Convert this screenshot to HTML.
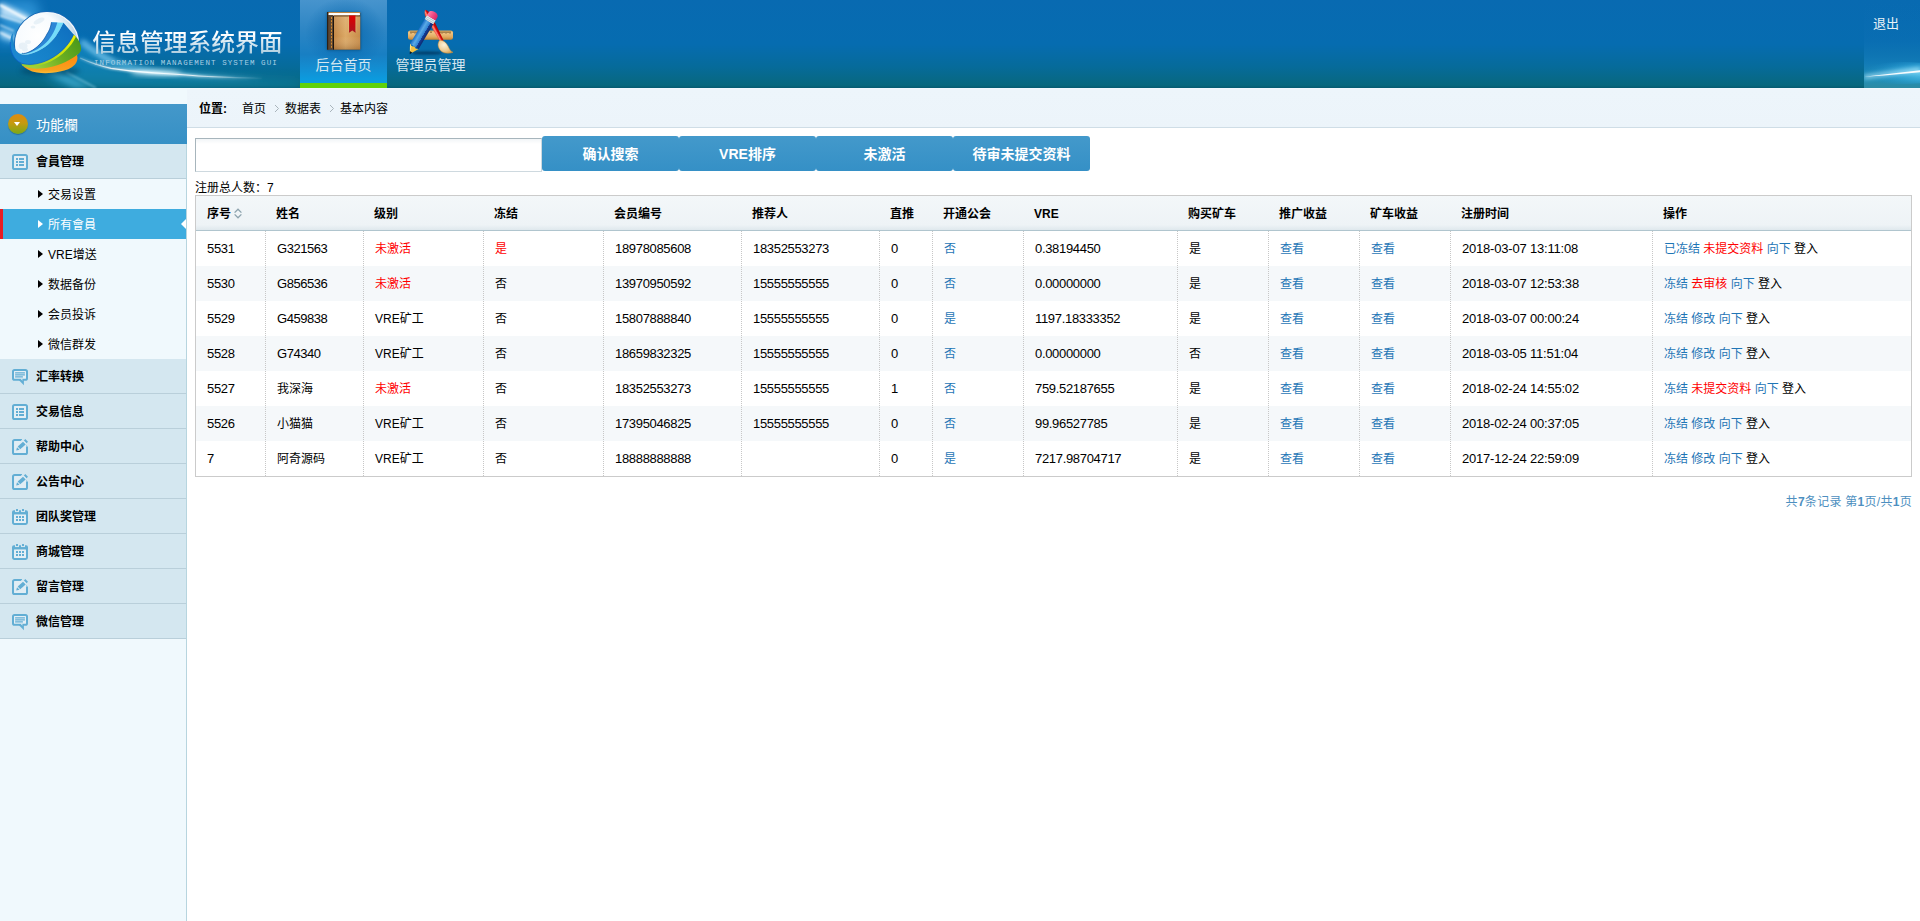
<!DOCTYPE html>
<html lang="zh-CN">
<head>
<meta charset="utf-8">
<title>信息管理系统界面</title>
<style>
*{margin:0;padding:0;box-sizing:border-box;}
html,body{width:1920px;height:921px;overflow:hidden;background:#fff;}
body{font-family:"Liberation Sans","Noto Sans CJK SC",sans-serif;font-size:12px;color:#000;position:relative;}
ul,li{list-style:none;}
a{text-decoration:none;color:inherit;}
/* header */
#top{position:absolute;left:0;top:0;width:1920px;height:88px;background:linear-gradient(to bottom,#086ab1 0%,#066cb0 50%,#066b9b 75%,#08687e 97%,#075a70 100%);overflow:hidden;}
#topleft{position:absolute;left:0;top:0;width:300px;height:88px;}
#logotxt{position:absolute;left:92.300px;top:26px;font-size:23.8px;font-weight:500;line-height:34px;color:#e8f1f7;letter-spacing:0;white-space:nowrap;background:linear-gradient(to bottom,#ffffff 25%,#cfe3ee 55%,#a9cbdd 85%);-webkit-background-clip:text;background-clip:text;-webkit-text-fill-color:transparent;}
#logosub{position:absolute;left:94px;top:58px;font-family:"Liberation Mono","Liberation Sans",monospace;font-size:7.5px;line-height:10px;color:#a9d0e4;letter-spacing:1.07px;white-space:nowrap;}
.nav{position:absolute;left:300px;top:0;height:88px;}
.nav li{position:absolute;top:0;width:87px;height:88px;text-align:center;}
.nav li.sel{background:radial-gradient(ellipse 40px 36px at 52% 38%,rgba(9,104,174,.9) 0,rgba(9,104,174,.55) 45%,rgba(9,104,174,0) 100%),linear-gradient(to bottom,#4794cd 0%,#2c85c4 35%,#187fc3 62%,#1290d4 80%,#0a9ee1 93%,#0a9fe2 100%);}
.nav li.sel:after{content:"";position:absolute;left:0;bottom:0;width:87px;height:5px;background:#5fd10a;}
.nav h2{position:absolute;left:0;top:55px;width:87px;font-size:14px;font-weight:normal;line-height:20px;color:#d6e8f1;white-space:nowrap;}
.nav svg{position:absolute;}
#topright{position:absolute;right:0;top:0;width:56px;height:88px;}
#exit{position:absolute;left:1873px;top:15px;font-size:13px;line-height:18px;color:#e9f2f7;}
/* sidebar */
#left{position:absolute;left:0;top:88px;width:187px;height:833px;background:#f0f9fd;}
#left:after{content:"";position:absolute;left:186px;top:56px;width:1px;height:777px;background:#b7d5df;}
#lefttop{position:absolute;left:0;top:16px;width:187px;height:40px;background:linear-gradient(to bottom,#4498ca,#3690c5);color:#fff;font-size:14px;line-height:40px;}
#lefttop span.t{position:absolute;left:36px;top:1px;}
#lefttop .ico{position:absolute;left:8px;top:10px;width:20px;height:20px;border-radius:50%;background:linear-gradient(to bottom,#e08a10,#c69a10 45%,#7aa916);box-shadow:0 1px 1px rgba(0,0,0,.25);}
#lefttop .ico:after{content:"";position:absolute;left:5.800px;top:8px;border:3.700px solid transparent;border-top:4.200px solid #fff;border-bottom:0;}
.mt{position:absolute;left:0;width:186px;height:35px;background:#d4e7f0;border-bottom:1px solid #b9cfda;font-weight:bold;font-size:12px;line-height:36px;}
.mt b{position:absolute;left:36px;top:0;font-weight:bold;}
.mt svg{position:absolute;left:12px;top:10px;}
.ms{position:absolute;left:0;width:186px;height:30px;line-height:33.200px;font-size:12px;}
.ms span{position:absolute;left:48px;top:0;}
.ms i{position:absolute;left:38px;top:11px;border:4px solid transparent;border-left:5px solid #000;border-right:0;}
.ms.act{background:#3eacdf;color:#fff;border-left:3px solid #e81c24;}
.ms.act span{left:45px;}
.ms.act i{left:35px;border-left-color:#fff;}
.ms.act em{position:absolute;right:0;top:9.500px;border:5.300px solid transparent;border-right:5.500px solid #fff;border-left:0;}
/* right */
#place{position:absolute;left:187px;top:88px;width:1733px;height:40px;background:linear-gradient(to bottom,#f4f9fd 0,#edf5fb 2px,#ecf4fa 100%);border-bottom:1px solid #cfdde6;line-height:42px;}
#place span,#place a,#place i{position:absolute;top:0;white-space:nowrap;}
#place i{font-style:normal;color:#9aa;}
#sin{position:absolute;left:195px;top:138px;width:347px;height:34px;border:1px solid #a7b5bc;border-bottom-color:#ced9df;border-right-color:#ced9df;background:linear-gradient(to bottom,#f2f5f7 0,#fff 5px);}
.btn{position:absolute;top:136px;width:137px;height:35px;background:linear-gradient(to bottom,#4399cb,#3590c6);border-radius:3px;color:#fff;font-weight:bold;font-size:14px;line-height:37px;text-align:center;}
#total{position:absolute;left:195px;top:179px;line-height:18px;}
#tbl{position:absolute;left:195px;top:195px;width:1717px;height:282px;border:1px solid #cbcbcb;}
#thead{position:absolute;left:0;top:0;width:1715px;height:35px;background:linear-gradient(to bottom,#f3f7f9 0%,#eef3f6 85%,#dfe8ed 100%);border-bottom:1px solid #b0c5ce;}
#thead b{position:absolute;top:0;line-height:36px;white-space:nowrap;}
.tr{position:absolute;left:0;width:1715px;height:35px;line-height:35px;}
.tr.odd{background:#f5f8fa;}
.tr span{position:absolute;top:0;white-space:nowrap;line-height:37px;}
.tr span.n,.tr span.d,.tr span.g{line-height:35.600px;}
.vl{position:absolute;z-index:2;top:35px;width:0;height:245px;border-left:1px dotted #c7c7c7;}
.red{color:#f00;}
.blue{color:#1f76b6;}
.n{font-size:13px;letter-spacing:-.32px;}
.d{font-size:13px;letter-spacing:-.2px;}
.g{font-size:13px;letter-spacing:-.45px;}
#pager{position:absolute;right:8px;top:493px;line-height:18px;color:#4d8fc0;white-space:nowrap;letter-spacing:.28px;}
</style>
</head>
<body>
<div id="top">
  <div id="topleft">
<svg id="logosvg" width="300" height="88" viewBox="0 0 300 88" style="position:absolute;left:0;top:0">
<defs>
<filter id="b1" x="-20%" y="-50%" width="140%" height="200%"><feGaussianBlur stdDeviation="0.9"/></filter>
<filter id="b2" x="-20%" y="-50%" width="140%" height="200%"><feGaussianBlur stdDeviation="2.5"/></filter>
<filter id="b5" x="-30%" y="-80%" width="160%" height="260%"><feGaussianBlur stdDeviation="6"/></filter>
<filter id="b0" x="-20%" y="-20%" width="140%" height="140%"><feGaussianBlur stdDeviation="0.6"/></filter>
<radialGradient id="gl" gradientUnits="userSpaceOnUse" cx="38" cy="36" r="44"><stop offset="0" stop-color="#ffffff"/><stop offset="0.5" stop-color="#f7fbfe"/><stop offset="0.72" stop-color="#d5e7f3"/><stop offset="0.9" stop-color="#b5cfe2"/><stop offset="1" stop-color="#e8f3fa"/></radialGradient>
<linearGradient id="gb" gradientUnits="userSpaceOnUse" x1="68" y1="24" x2="25" y2="64"><stop offset="0" stop-color="#0f6fc0"/><stop offset="0.55" stop-color="#1580c8"/><stop offset="1" stop-color="#1b87cf"/></linearGradient>
<linearGradient id="gg" gradientUnits="userSpaceOnUse" x1="78" y1="40" x2="35" y2="68"><stop offset="0" stop-color="#4b991b"/><stop offset="0.45" stop-color="#6aae22"/><stop offset="1" stop-color="#a0cf3a"/></linearGradient>
<linearGradient id="gy" gradientUnits="userSpaceOnUse" x1="75" y1="35" x2="25" y2="66"><stop offset="0" stop-color="#f2f200"/><stop offset="0.4" stop-color="#c6e010"/><stop offset="1" stop-color="#8fd02c"/></linearGradient>
<linearGradient id="go" gradientUnits="userSpaceOnUse" x1="50" y1="60" x2="50" y2="74"><stop offset="0" stop-color="#ff8f14"/><stop offset="0.7" stop-color="#f7a11f"/><stop offset="1" stop-color="#ffc23a"/></linearGradient>
<linearGradient id="sw" gradientUnits="userSpaceOnUse" x1="80" y1="0" x2="265" y2="0"><stop offset="0" stop-color="#fff" stop-opacity=".25"/><stop offset="0.18" stop-color="#fff" stop-opacity=".8"/><stop offset="0.36" stop-color="#fff" stop-opacity="1"/><stop offset="0.62" stop-color="#fff" stop-opacity=".75"/><stop offset="0.85" stop-color="#fff" stop-opacity=".2"/><stop offset="1" stop-color="#fff" stop-opacity="0"/></linearGradient>
<linearGradient id="sw2" gradientUnits="userSpaceOnUse" x1="80" y1="0" x2="265" y2="0"><stop offset="0" stop-color="#7fd4f7" stop-opacity=".5"/><stop offset="0.36" stop-color="#7fd4f7" stop-opacity=".7"/><stop offset="0.75" stop-color="#7fd4f7" stop-opacity=".25"/><stop offset="1" stop-color="#7fd4f7" stop-opacity="0"/></linearGradient>
<clipPath id="gc"><rect x="0" y="0" width="100" height="56"/></clipPath>
</defs>
<!-- light rays -->
<path d="M0 0L36 0L42 24L18 40L0 46Z" fill="#43a9ea" opacity=".6" filter="url(#b5)"/>
<path d="M0 2L30 16L30 24L0 16Z" fill="#d9f0ff" opacity=".8" filter="url(#b2)"/>
<path d="M0 5L27 19.500" stroke="#fff" stroke-width="2.200" opacity=".95" filter="url(#b1)"/>
<path d="M0 15.500L22 22.500" stroke="#eaf7ff" stroke-width="1.600" opacity=".85" filter="url(#b1)"/>
<path d="M0 25L14 31" stroke="#eaf7ff" stroke-width="1.400" opacity=".7" filter="url(#b1)"/>
<path d="M0 29L16 36L14 42L0 38Z" fill="#bfe6ff" opacity=".7" filter="url(#b2)"/>
<path d="M0 32.500L12 38.500" stroke="#fff" stroke-width="1.400" opacity=".85" filter="url(#b1)"/>
<path d="M78 40C100 58 125 68 155 72C200 77 250 79 300 82L300 88L60 88L40 70Z" fill="#1ba0d8" opacity=".38" filter="url(#b5)"/>
<path d="M81 42C95 54 112 63 132 68C145 71 160 73 180 74.500C200 76 230 77.500 262 78.500" fill="none" stroke="url(#sw2)" stroke-width="5" filter="url(#b2)"/>
<path d="M82 41C92 50 102 57 114 62" fill="none" stroke="#8fd4fa" stroke-width="3.500" opacity=".6" filter="url(#b2)"/>
<path d="M80 58C90 62.500 100 66 111 68.300C125 70.500 140 72 154 72.800C175 74.300 195 75.800 212 76.700C230 77.500 245 78 262 78.300" fill="none" stroke="url(#sw)" stroke-width="2.600" opacity=".7" filter="url(#b1)"/>
<path d="M80 58C90 62.500 100 66 111 68.300C125 70.500 140 72 154 72.800C175 74.300 195 75.800 212 76.700C230 77.500 245 78 262 78.300" fill="none" stroke="url(#sw)" stroke-width="1.200" filter="url(#b0)"/>
<ellipse cx="156" cy="72.800" rx="26" ry="3" fill="#e8fbff" opacity=".65" filter="url(#b2)"/>
<path d="M56 70L92 88L74 88L44 72Z" fill="#5cc3e6" opacity=".45" filter="url(#b2)"/>
<path d="M66 72L96 88" stroke="#a5e2f5" stroke-width="1.500" opacity=".5" filter="url(#b1)"/>
<!-- shadow -->
<ellipse cx="50" cy="71" rx="30" ry="4.500" fill="#053e5a" opacity=".55" filter="url(#b2)"/>
<!-- globe -->
<g clip-path="url(#gc)">
<circle cx="47" cy="44" r="32.300" fill="url(#gl)" stroke="#1769b5" stroke-width="1.400"/>
<circle cx="47" cy="44" r="31.500" fill="none" stroke="#ffffff" stroke-width="1.200" opacity=".9"/>
<g fill="#cfe2ef" opacity=".4" filter="url(#b0)"><ellipse cx="23" cy="46" rx="4.500" ry="3.500"/><ellipse cx="28" cy="42" rx="3" ry="2"/><ellipse cx="25" cy="49.500" rx="3" ry="2"/><ellipse cx="39" cy="21" rx="6" ry="2.500" transform="rotate(-25 39 21)"/><ellipse cx="33" cy="27" rx="2.500" ry="1.500"/></g>
</g>
<!-- orange -->
<path d="M77 55C78.200 59 77 62 75 64.500C71 68.500 66 70.500 60 71.600C52 73.300 44 73.600 37 72.600C30 71.400 25 68.500 21.500 64.500L50 60Z" fill="url(#go)"/>
<!-- green -->
<path d="M73.600 34.500L76.600 37.500C79 40 81 44.500 81.100 48.900C80.800 52 79 54 75.600 56C68 61.500 56 66.800 44 68.300C36 69.300 28 68.800 22 65.300L30 60L60 45Z" fill="url(#gg)"/>
<path d="M73.600 34.500L75.900 36.800C71 47 62 56 50.500 61.400C41.500 65.500 31 67.300 23 65.300L20.500 63C29 66 40 64 49 59.500C60 54 69 45 73.600 34.500Z" fill="url(#gy)"/>
<!-- stripes -->
<path d="M51.500 22.200L63.500 22.800C61 28 58 33 56 36C53 40 49 44 46 46.300C41 50 35 52.500 30 54C26 55.300 22 55.200 18.500 52.500C20 53.200 21 53.300 22 53.300C24 53.800 27 53 30 51.500C33.500 50 37 47 40 44C42.500 41.500 45 38 47 34C49 31 50.500 28 51.500 22.200Z" fill="#74dcf9"/>
<path d="M51.500 22.200L57.400 22.500C56 27 54.500 31 52 35C50 38.500 47 42 44 44.500C40 48 35 50.800 30 52.600C27 53.600 24 54 22 53.300C24 53.800 27 53 30 51.500C33.500 50 37 47 40 44C42.500 41.500 45 38 47 34C49 31 50.500 28 51.500 22.200Z" fill="#2c86d6"/>
<path d="M51.500 22.200C50.500 28 49 31 47 34C45 38 42.500 41.500 40 44C37 47 33.500 50 30 51.500C27 53 24 53.800 22 53.300" fill="none" stroke="#0c4c9c" stroke-width="0.800" opacity=".8"/>
<!-- blue face -->
<path d="M63.500 22.800L73.600 34.500C69 45 60 54 49 59.500C40 64 29 66 21 63C13.500 59.500 9.800 51 10.300 42C10.600 37 11.500 34.500 13 33.200C12.300 40 13.500 47 16.500 51C20 55 25 55.500 30 54C35 52.500 41 50 46 46.300C49 44 53 40 56 36C58 33 61 28 63.500 22.800Z" fill="url(#gb)"/>
<path d="M73.600 34.500C69 45 60 54 49 59.500C40 64 29 66 21 63C13.500 59.500 9.800 51 10.300 42" fill="none" stroke="#0a5ad0" stroke-width="1" opacity=".7"/>
</svg>
    <div id="logotxt">信息管理系统界面</div>
    <div id="logosub">INFORMATION MANAGEMENT SYSTEM GUI</div>
  </div>
  <ul class="nav">
    <li class="sel" style="left:0"><svg width="87" height="56" viewBox="300 0 87 56" style="left:0;top:0">
<defs>
<linearGradient id="bk" x1="0" y1="0" x2="1" y2="0"><stop offset="0" stop-color="#c48745"/><stop offset="0.45" stop-color="#dca966"/><stop offset="1" stop-color="#c88c48"/></linearGradient>
<linearGradient id="bkv" x1="0" y1="0" x2="0" y2="1"><stop offset="0" stop-color="#fff" stop-opacity=".12"/><stop offset="0.6" stop-color="#fff" stop-opacity="0"/><stop offset="1" stop-color="#5a3410" stop-opacity=".25"/></linearGradient>
<linearGradient id="rb" x1="0" y1="0" x2="0" y2="1"><stop offset="0" stop-color="#e00000"/><stop offset="1" stop-color="#aa1420"/></linearGradient>
<filter id="nb1" x="-20%" y="-20%" width="140%" height="140%"><feGaussianBlur stdDeviation="0.8"/></filter>
</defs>
<rect x="326.500" y="12" width="34.500" height="38.500" rx="1.500" fill="#04365c" opacity=".45" filter="url(#nb1)"/>
<rect x="327" y="12" width="33.200" height="37.600" rx="1.200" fill="#5d4632"/>
<rect x="328.500" y="12" width="31.700" height="1.200" fill="#b98444"/>
<rect x="328.300" y="13" width="31.700" height="2.400" rx="0.800" fill="#ffffff"/>
<rect x="333.800" y="15.400" width="26.400" height="1.300" fill="#8a5a28"/>
<rect x="333.800" y="16.600" width="26.400" height="32.900" fill="url(#bk)"/>
<rect x="333.800" y="16.600" width="26.400" height="32.900" fill="url(#bkv)"/>
<rect x="333" y="16" width="1" height="33.600" fill="#1d140c"/>
<rect x="327" y="15" width="6" height="34.600" fill="#5d4632"/>
<rect x="327" y="12" width="1.200" height="37.600" fill="#2d2116"/>
<path d="M331.500 17V49" stroke="#e8952c" stroke-width="0.900" stroke-dasharray="2 1.200"/>
<path d="M349 15.400H355.600V32.800L352.300 30.600L349 32.800Z" fill="url(#rb)"/>
<path d="M348.700 16.500V31.500M355.900 16.500V31.500" stroke="#e9d58a" stroke-width="0.500" opacity=".8"/>
</svg><h2>后台首页</h2></li>
    <li style="left:87px"><svg width="87" height="58" viewBox="387 0 87 58" style="left:0;top:0">
<defs>
<linearGradient id="rl" x1="0" y1="0" x2="0" y2="1"><stop offset="0" stop-color="#dba556"/><stop offset="0.25" stop-color="#efc584"/><stop offset="0.7" stop-color="#e0a95e"/><stop offset="1" stop-color="#c5832f"/></linearGradient>
<linearGradient id="pc" x1="0" y1="0" x2="1" y2="0"><stop offset="0" stop-color="#1a6fc8"/><stop offset="0.32" stop-color="#5aaae6"/><stop offset="0.68" stop-color="#2f80d2"/><stop offset="0.7" stop-color="#173f98"/><stop offset="1" stop-color="#0d2a70"/></linearGradient>
<linearGradient id="er" x1="0" y1="0" x2="1" y2="0"><stop offset="0" stop-color="#ff7fa6"/><stop offset="0.5" stop-color="#f04a84"/><stop offset="1" stop-color="#d82864"/></linearGradient>
<linearGradient id="hd" x1="0" y1="0" x2="1" y2="0"><stop offset="0" stop-color="#f03020"/><stop offset="0.35" stop-color="#ff8a7a"/><stop offset="0.6" stop-color="#d80a0a"/><stop offset="1" stop-color="#9c0000"/></linearGradient>
<radialGradient id="br" cx="0.4" cy="0.35" r="0.8"><stop offset="0" stop-color="#fdf1d8"/><stop offset="0.6" stop-color="#ecc88e"/><stop offset="1" stop-color="#cf9440"/></radialGradient>
<filter id="nb2" x="-20%" y="-100%" width="140%" height="300%"><feGaussianBlur stdDeviation="1"/></filter>
</defs>
<ellipse cx="427" cy="53" rx="15" ry="1.600" fill="#032b50" opacity=".7" filter="url(#nb2)"/>
<rect x="408" y="30.400" width="45" height="9.400" rx="2.200" fill="url(#rl)"/>
<path d="M411 31.500v2M413 31.500v1.500M415 31.500v2M417 31.500v1.500M419 31.500v2M431 31.500v1.500M440 31.500v1.500M442 31.500v2M444 31.500v1.500M446 31.500v2M448 31.500v1.500M450 31.500v2" stroke="#5a350c" stroke-width="0.900"/>
<!-- brush handle -->
<g transform="translate(425.300 10.300) rotate(-28.500)">
<path d="M0 -0.500C2.200 1.500 3.200 4.500 2.900 8.500L1.800 35H-1.800L-2.900 8.500C-3.200 4.500 -2.200 1.500 0 -0.500Z" fill="url(#hd)"/>
</g>
<path d="M439.500 40.500C443 40 446 42 448 46C449.500 49.500 451 51.500 453 52.300C449 53.800 444 53.600 441 51C438 48 437 44 439.500 40.500Z" fill="url(#br)" stroke="#c98a36" stroke-width="0.500"/>
<!-- pencil -->
<g transform="translate(433.200 14.600) rotate(30.700)">
<rect x="-5" y="8" width="10" height="29" fill="url(#pc)"/>
<path d="M-5 37L-1.200 43.600L1.200 43.600L5 37L2.500 38.200L0 37L-2.500 38.200Z" fill="#f5c242"/>
<path d="M-5 37L-2.500 38.200L-1 43.200L-1.200 43.600Z" fill="#ffe082"/>
<path d="M-1.300 43.400L0 46L1.300 43.400Z" fill="#14161a"/>
<rect x="-5" y="3.600" width="10" height="4.600" fill="#e3eef2"/>
<rect x="-5" y="4.800" width="10" height="0.800" fill="#a8c4cc"/>
<rect x="-5" y="6.600" width="10" height="0.800" fill="#a8c4cc"/>
<path d="M-5 3.800V0.500C-5 -2 -2.500 -3 0 -3C2.500 -3 5 -2 5 0.500V3.800Z" fill="url(#er)"/>
</g>
</svg><h2>管理员管理</h2></li>
  </ul>
  <div id="topright"><svg width="56" height="88" viewBox="0 0 56 88" style="position:absolute;left:0;top:0">
<defs>
<linearGradient id="trg" x1="0" y1="0" x2="0" y2="1"><stop offset="0" stop-color="#0a6cb3" stop-opacity="0"/><stop offset="0.45" stop-color="#0d70b5" stop-opacity=".4"/><stop offset="0.72" stop-color="#157fbd" stop-opacity=".8"/><stop offset="0.9" stop-color="#2390b8"/><stop offset="1" stop-color="#2d8aa2"/></linearGradient>
<radialGradient id="trr" cx="0.75" cy="0.5" r="0.7"><stop offset="0" stop-color="#6fd4f5" stop-opacity=".95"/><stop offset="0.5" stop-color="#3ab0e2" stop-opacity=".6"/><stop offset="1" stop-color="#1a8dc8" stop-opacity="0"/></radialGradient>
<filter id="tb1" x="-20%" y="-200%" width="140%" height="500%"><feGaussianBlur stdDeviation="0.7"/></filter>
<filter id="tb2" x="-20%" y="-200%" width="140%" height="500%"><feGaussianBlur stdDeviation="2"/></filter>
</defs>
<rect x="0" y="0" width="56" height="88" fill="url(#trg)"/>
<ellipse cx="40" cy="73" rx="46" ry="11" fill="url(#trr)"/>
<path d="M0 77L56 69.500" stroke="#bfeeff" stroke-width="4" opacity=".7" filter="url(#tb2)"/>
<path d="M0 76.800L56 70.200L56 72.200L20 75.600Z" fill="#fff" opacity=".95" filter="url(#tb1)"/>
</svg></div>
  <a id="exit">退出</a>
</div>
<div id="left">
  <div id="lefttop"><div class="ico"></div><span class="t">功能欄</span></div>
<div class="mt" style="top:56px"><svg width="16" height="16" viewBox="0 0 16 16"><rect x="1" y="1" width="14" height="14" rx="1.600" fill="#e4eff5" stroke="#62aed4" stroke-width="2"/><g fill="#62aed4"><rect x="4" y="4" width="2" height="2"/><rect x="7" y="4" width="5" height="2"/><rect x="4" y="7" width="2" height="2"/><rect x="7" y="7" width="5" height="2"/><rect x="4" y="10" width="2" height="2"/><rect x="7" y="10" width="5" height="2"/></g></svg><b>會員管理</b></div>
<div class="ms" style="top:91px"><i></i><span>交易设置</span></div>
<div class="ms act" style="top:121px"><i></i><span>所有會員</span><em></em></div>
<div class="ms" style="top:151px"><i></i><span>VRE增送</span></div>
<div class="ms" style="top:181px"><i></i><span>数据备份</span></div>
<div class="ms" style="top:211px"><i></i><span>会员投诉</span></div>
<div class="ms" style="top:241px"><i></i><span>微信群发</span></div>
<div class="mt" style="top:271px"><svg width="16" height="17" viewBox="0 0 16 17"><rect x="1" y="1" width="14" height="9.800" rx="1.600" fill="#e4eff5" stroke="#62aed4" stroke-width="2"/><path d="M6 10.200L11.900 16.200V10.200Z" fill="#62aed4"/><path d="M8.600 9.800L10.400 11.700V9.800Z" fill="#e4eff5"/><g fill="#62aed4"><rect x="3" y="3.300" width="10" height="1.100" rx=".5"/><rect x="3" y="5.300" width="10" height="1.100" rx=".5"/><rect x="3" y="7.300" width="8" height="1.100" rx=".5"/></g></svg><b>汇率转换</b></div>
<div class="mt" style="top:306px"><svg width="16" height="16" viewBox="0 0 16 16"><rect x="1" y="1" width="14" height="14" rx="1.600" fill="#e4eff5" stroke="#62aed4" stroke-width="2"/><g fill="#62aed4"><rect x="4" y="4" width="2" height="2"/><rect x="7" y="4" width="5" height="2"/><rect x="4" y="7" width="2" height="2"/><rect x="7" y="7" width="5" height="2"/><rect x="4" y="10" width="2" height="2"/><rect x="7" y="10" width="5" height="2"/></g></svg><b>交易信息</b></div>
<div class="mt" style="top:341px"><svg width="17" height="16" viewBox="0 0 17 16"><path d="M2.200 2H14V14H2.200Z" fill="#e0edf4"/><path d="M10 1H2.600A1.600 1.600 0 0 0 1 2.600V13.400A1.600 1.600 0 0 0 2.600 15H13.400A1.600 1.600 0 0 0 15 13.400V6.600" fill="none" stroke="#62aed4" stroke-width="2"/><path d="M10.600 0L8.400 2.200H10.600ZM13.800 7.400L16 5.200V7.400Z" fill="#d4e7f0"/><g fill="#62aed4"><path d="M13.300 0.100L16 2.800L14.600 4.200L11.900 1.500Z"/><path d="M11 2.700L13.700 5.400L8.200 10.300L5.700 7.600Z"/><path d="M5 8.300L7.600 10.800L4.200 11.500Z"/></g></svg><b>帮助中心</b></div>
<div class="mt" style="top:376px"><svg width="17" height="16" viewBox="0 0 17 16"><path d="M2.200 2H14V14H2.200Z" fill="#e0edf4"/><path d="M10 1H2.600A1.600 1.600 0 0 0 1 2.600V13.400A1.600 1.600 0 0 0 2.600 15H13.400A1.600 1.600 0 0 0 15 13.400V6.600" fill="none" stroke="#62aed4" stroke-width="2"/><path d="M10.600 0L8.400 2.200H10.600ZM13.800 7.400L16 5.200V7.400Z" fill="#d4e7f0"/><g fill="#62aed4"><path d="M13.300 0.100L16 2.800L14.600 4.200L11.900 1.500Z"/><path d="M11 2.700L13.700 5.400L8.200 10.300L5.700 7.600Z"/><path d="M5 8.300L7.600 10.800L4.200 11.500Z"/></g></svg><b>公告中心</b></div>
<div class="mt" style="top:411px"><svg width="16" height="16" viewBox="0 0 16 16"><rect x="1" y="4.300" width="14" height="10.700" rx="1.400" fill="#e4eff5" stroke="#62aed4" stroke-width="2"/><g fill="#62aed4"><path d="M0 3.200A1.900 1.900 0 0 1 1.900 1.300H3V3.300H7V1.300H9V3.300H13V1.300H14.100A1.900 1.900 0 0 1 16 3.200V5.300H0Z"/><rect x="4" y="0" width="2" height="2.100" rx=".3"/><rect x="10" y="0" width="2" height="2.100" rx=".3"/><rect x="4" y="7" width="2" height="2"/><rect x="7" y="7" width="2" height="2"/><rect x="10" y="7" width="2" height="2"/><rect x="4" y="10" width="2" height="2"/><rect x="7" y="10" width="2" height="2"/><rect x="10" y="10" width="2" height="2"/></g></svg><b>团队奖管理</b></div>
<div class="mt" style="top:446px"><svg width="16" height="16" viewBox="0 0 16 16"><rect x="1" y="4.300" width="14" height="10.700" rx="1.400" fill="#e4eff5" stroke="#62aed4" stroke-width="2"/><g fill="#62aed4"><path d="M0 3.200A1.900 1.900 0 0 1 1.900 1.300H3V3.300H7V1.300H9V3.300H13V1.300H14.100A1.900 1.900 0 0 1 16 3.200V5.300H0Z"/><rect x="4" y="0" width="2" height="2.100" rx=".3"/><rect x="10" y="0" width="2" height="2.100" rx=".3"/><rect x="4" y="7" width="2" height="2"/><rect x="7" y="7" width="2" height="2"/><rect x="10" y="7" width="2" height="2"/><rect x="4" y="10" width="2" height="2"/><rect x="7" y="10" width="2" height="2"/><rect x="10" y="10" width="2" height="2"/></g></svg><b>商城管理</b></div>
<div class="mt" style="top:481px"><svg width="17" height="16" viewBox="0 0 17 16"><path d="M2.200 2H14V14H2.200Z" fill="#e0edf4"/><path d="M10 1H2.600A1.600 1.600 0 0 0 1 2.600V13.400A1.600 1.600 0 0 0 2.600 15H13.400A1.600 1.600 0 0 0 15 13.400V6.600" fill="none" stroke="#62aed4" stroke-width="2"/><path d="M10.600 0L8.400 2.200H10.600ZM13.800 7.400L16 5.200V7.400Z" fill="#d4e7f0"/><g fill="#62aed4"><path d="M13.300 0.100L16 2.800L14.600 4.200L11.900 1.500Z"/><path d="M11 2.700L13.700 5.400L8.200 10.300L5.700 7.600Z"/><path d="M5 8.300L7.600 10.800L4.200 11.500Z"/></g></svg><b>留言管理</b></div>
<div class="mt" style="top:516px"><svg width="16" height="17" viewBox="0 0 16 17"><rect x="1" y="1" width="14" height="9.800" rx="1.600" fill="#e4eff5" stroke="#62aed4" stroke-width="2"/><path d="M6 10.200L11.900 16.200V10.200Z" fill="#62aed4"/><path d="M8.600 9.800L10.400 11.700V9.800Z" fill="#e4eff5"/><g fill="#62aed4"><rect x="3" y="3.300" width="10" height="1.100" rx=".5"/><rect x="3" y="5.300" width="10" height="1.100" rx=".5"/><rect x="3" y="7.300" width="8" height="1.100" rx=".5"/></g></svg><b>微信管理</b></div>
</div>
<div id="place"><span style="left:12px;font-weight:bold">位置:</span><a style="left:55px">首页</a><svg style="position:absolute;left:87px;top:16px" width="6" height="9" viewBox="0 0 6 9"><path d="M1 1l3.5 3.5L1 8" fill="none" stroke="#a9b4bb" stroke-width="1"/></svg><a style="left:98px">数据表</a><svg style="position:absolute;left:142px;top:16px" width="6" height="9" viewBox="0 0 6 9"><path d="M1 1l3.5 3.5L1 8" fill="none" stroke="#a9b4bb" stroke-width="1"/></svg><a style="left:153px">基本内容</a></div>
<div id="sin"></div>
<div class="btn" style="left:542px">确认搜索</div>
<div class="btn" style="left:679px">VRE排序</div>
<div class="btn" style="left:816px">未激活</div>
<div class="btn" style="left:953px">待审未提交资料</div>
<div id="total">注册总人数：7</div>
<div id="tbl">
<div id="thead">
<b style="left:11px">序号<svg style="position:absolute;left:27px;top:12px" width="8" height="11" viewBox="0 0 8 11"><path d="M0.6 4.6L4 1.2L7.4 4.6M0.6 6.4L4 9.8L7.4 6.4" fill="none" stroke="#8da3ae" stroke-width="1.3"/></svg></b>
<b style="left:80px">姓名</b>
<b style="left:178px">级别</b>
<b style="left:298px">冻结</b>
<b style="left:418px">会员编号</b>
<b style="left:556px">推荐人</b>
<b style="left:694px">直推</b>
<b style="left:747px">开通公会</b>
<b style="left:838px">VRE</b>
<b style="left:992px">购买矿车</b>
<b style="left:1083px">推广收益</b>
<b style="left:1174px">矿车收益</b>
<b style="left:1265px">注册时间</b>
<b style="left:1467px">操作</b>
</div>
<div class="vl" style="left:69px"></div>
<div class="vl" style="left:167px"></div>
<div class="vl" style="left:287px"></div>
<div class="vl" style="left:407px"></div>
<div class="vl" style="left:545px"></div>
<div class="vl" style="left:683px"></div>
<div class="vl" style="left:736px"></div>
<div class="vl" style="left:827px"></div>
<div class="vl" style="left:981px"></div>
<div class="vl" style="left:1072px"></div>
<div class="vl" style="left:1163px"></div>
<div class="vl" style="left:1254px"></div>
<div class="vl" style="left:1456px"></div>
<div class="tr" style="top:35px">
<span class="n" style="left:11px">5531</span>
<span class="g" style="left:81px">G321563</span>
<span class="red" style="left:179px">未激活</span>
<span class="red" style="left:299px">是</span>
<span class="n" style="left:419px">18978085608</span>
<span class="n" style="left:557px">18352553273</span>
<span class="n" style="left:695px">0</span>
<span class="blue" style="left:748px">否</span>
<span class="n" style="left:839px">0.38194450</span>
<span style="left:993px">是</span>
<span class="blue" style="left:1084px">查看</span>
<span class="blue" style="left:1175px">查看</span>
<span class="d" style="left:1266px">2018-03-07 13:11:08</span>
<span style="left:1468px"><a class="blue">已冻结</a> <a class="red">未提交资料</a> <a class="blue">向下</a> <a>登入</a></span>
</div>
<div class="tr odd" style="top:70px">
<span class="n" style="left:11px">5530</span>
<span class="g" style="left:81px">G856536</span>
<span class="red" style="left:179px">未激活</span>
<span style="left:299px">否</span>
<span class="n" style="left:419px">13970950592</span>
<span class="n" style="left:557px">15555555555</span>
<span class="n" style="left:695px">0</span>
<span class="blue" style="left:748px">否</span>
<span class="n" style="left:839px">0.00000000</span>
<span style="left:993px">是</span>
<span class="blue" style="left:1084px">查看</span>
<span class="blue" style="left:1175px">查看</span>
<span class="d" style="left:1266px">2018-03-07 12:53:38</span>
<span style="left:1468px"><a class="blue">冻结</a> <a class="red">去审核</a> <a class="blue">向下</a> <a>登入</a></span>
</div>
<div class="tr" style="top:105px">
<span class="n" style="left:11px">5529</span>
<span class="g" style="left:81px">G459838</span>
<span style="left:179px">VRE矿工</span>
<span style="left:299px">否</span>
<span class="n" style="left:419px">15807888840</span>
<span class="n" style="left:557px">15555555555</span>
<span class="n" style="left:695px">0</span>
<span class="blue" style="left:748px">是</span>
<span class="n" style="left:839px">1197.18333352</span>
<span style="left:993px">是</span>
<span class="blue" style="left:1084px">查看</span>
<span class="blue" style="left:1175px">查看</span>
<span class="d" style="left:1266px">2018-03-07 00:00:24</span>
<span style="left:1468px"><a class="blue">冻结</a> <a class="blue">修改</a> <a class="blue">向下</a> <a>登入</a></span>
</div>
<div class="tr odd" style="top:140px">
<span class="n" style="left:11px">5528</span>
<span class="g" style="left:81px">G74340</span>
<span style="left:179px">VRE矿工</span>
<span style="left:299px">否</span>
<span class="n" style="left:419px">18659832325</span>
<span class="n" style="left:557px">15555555555</span>
<span class="n" style="left:695px">0</span>
<span class="blue" style="left:748px">否</span>
<span class="n" style="left:839px">0.00000000</span>
<span style="left:993px">否</span>
<span class="blue" style="left:1084px">查看</span>
<span class="blue" style="left:1175px">查看</span>
<span class="d" style="left:1266px">2018-03-05 11:51:04</span>
<span style="left:1468px"><a class="blue">冻结</a> <a class="blue">修改</a> <a class="blue">向下</a> <a>登入</a></span>
</div>
<div class="tr" style="top:175px">
<span class="n" style="left:11px">5527</span>
<span style="left:81px">我深海</span>
<span class="red" style="left:179px">未激活</span>
<span style="left:299px">否</span>
<span class="n" style="left:419px">18352553273</span>
<span class="n" style="left:557px">15555555555</span>
<span class="n" style="left:695px">1</span>
<span class="blue" style="left:748px">否</span>
<span class="n" style="left:839px">759.52187655</span>
<span style="left:993px">是</span>
<span class="blue" style="left:1084px">查看</span>
<span class="blue" style="left:1175px">查看</span>
<span class="d" style="left:1266px">2018-02-24 14:55:02</span>
<span style="left:1468px"><a class="blue">冻结</a> <a class="red">未提交资料</a> <a class="blue">向下</a> <a>登入</a></span>
</div>
<div class="tr odd" style="top:210px">
<span class="n" style="left:11px">5526</span>
<span style="left:81px">小猫猫</span>
<span style="left:179px">VRE矿工</span>
<span style="left:299px">否</span>
<span class="n" style="left:419px">17395046825</span>
<span class="n" style="left:557px">15555555555</span>
<span class="n" style="left:695px">0</span>
<span class="blue" style="left:748px">否</span>
<span class="n" style="left:839px">99.96527785</span>
<span style="left:993px">是</span>
<span class="blue" style="left:1084px">查看</span>
<span class="blue" style="left:1175px">查看</span>
<span class="d" style="left:1266px">2018-02-24 00:37:05</span>
<span style="left:1468px"><a class="blue">冻结</a> <a class="blue">修改</a> <a class="blue">向下</a> <a>登入</a></span>
</div>
<div class="tr" style="top:245px">
<span class="n" style="left:11px">7</span>
<span style="left:81px">阿奇源码</span>
<span style="left:179px">VRE矿工</span>
<span style="left:299px">否</span>
<span class="n" style="left:419px">18888888888</span>

<span class="n" style="left:695px">0</span>
<span class="blue" style="left:748px">是</span>
<span class="n" style="left:839px">7217.98704717</span>
<span style="left:993px">是</span>
<span class="blue" style="left:1084px">查看</span>
<span class="blue" style="left:1175px">查看</span>
<span class="d" style="left:1266px">2017-12-24 22:59:09</span>
<span style="left:1468px"><a class="blue">冻结</a> <a class="blue">修改</a> <a class="blue">向下</a> <a>登入</a></span>
</div>
</div>
<div id="pager">共<b>7</b>条记录 第<b>1</b>页/共<b>1</b>页</div>
</body>
</html>
